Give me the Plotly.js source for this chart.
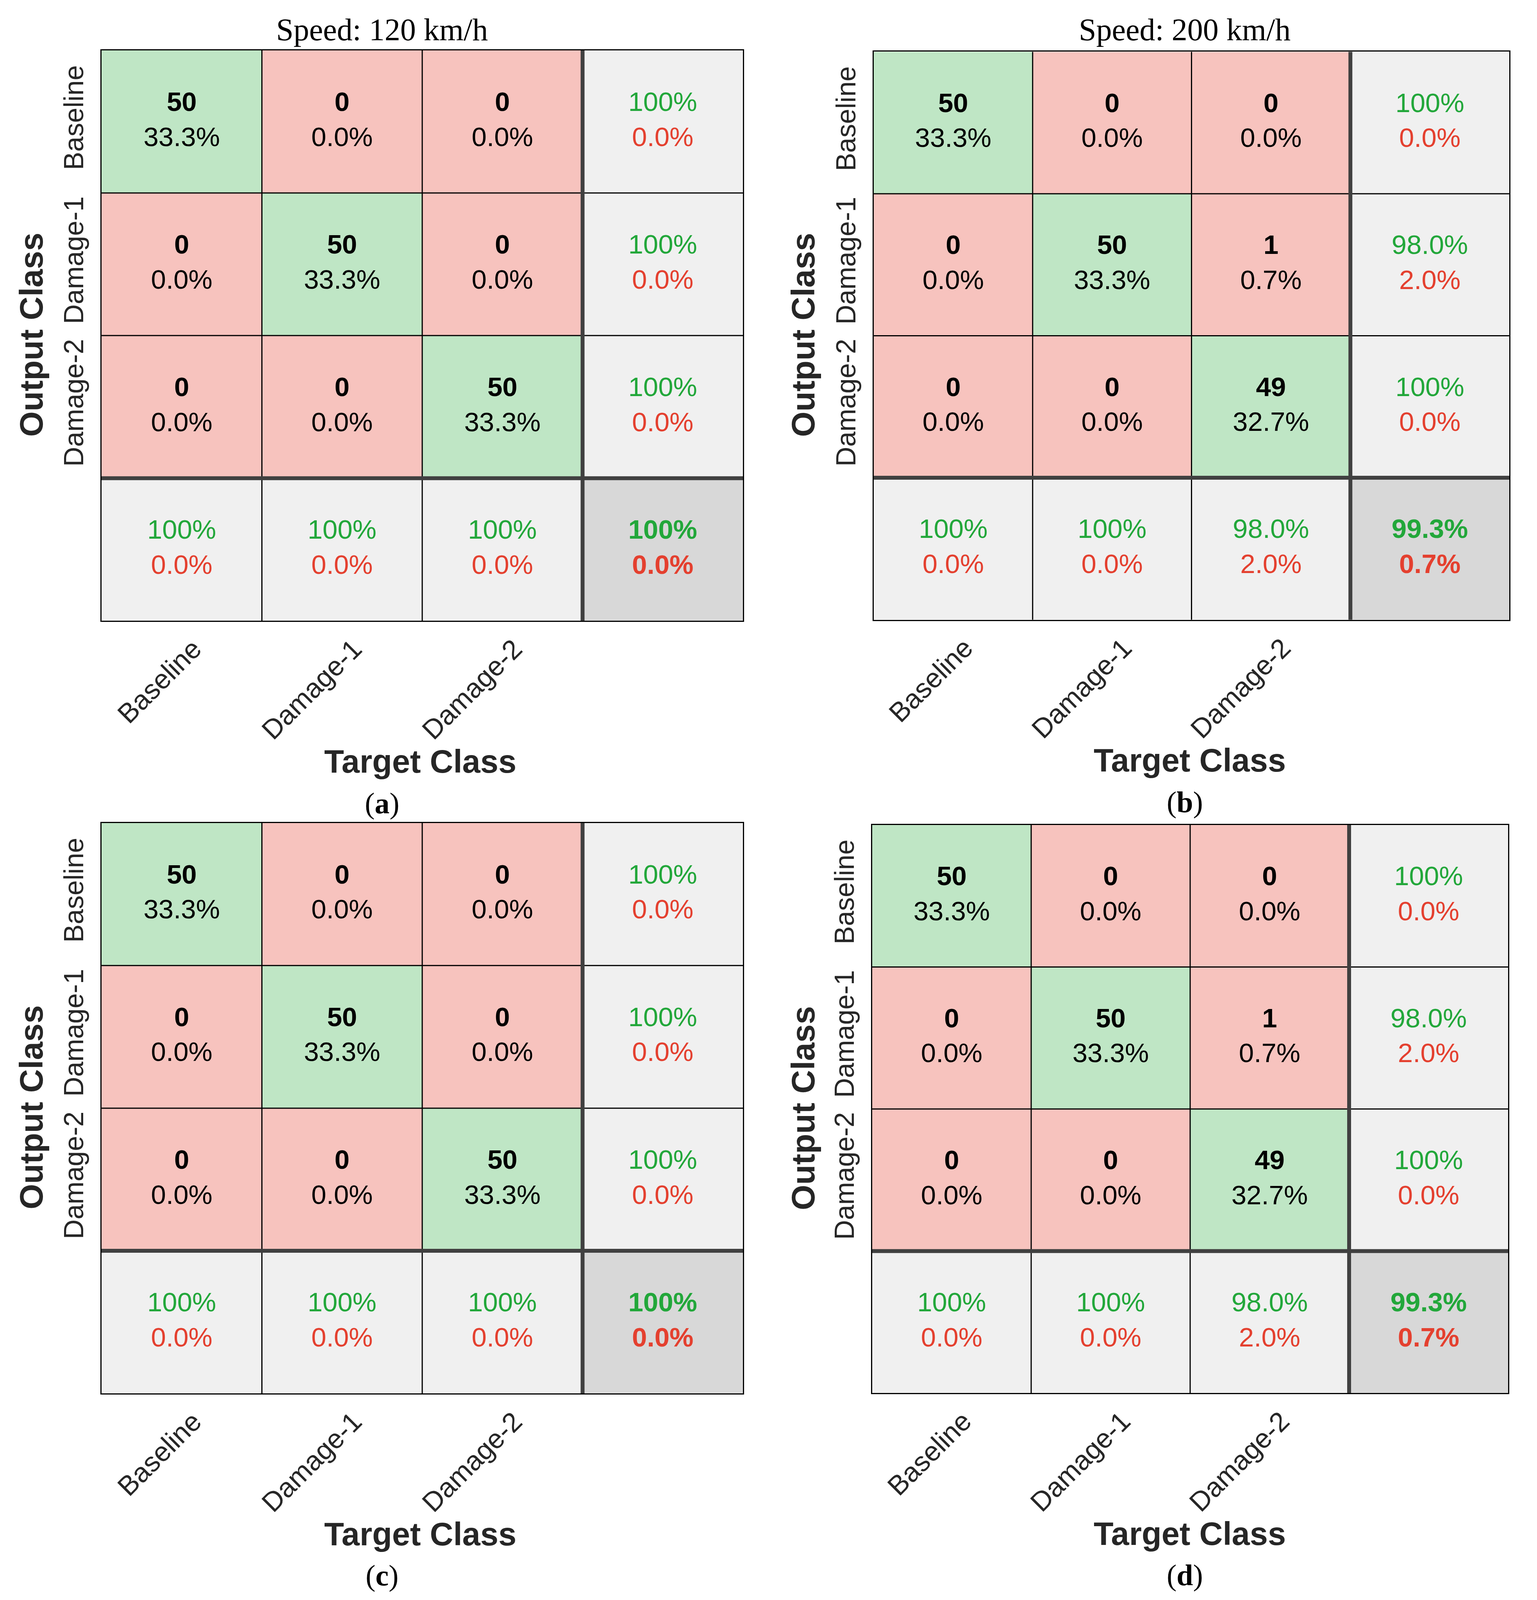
<!DOCTYPE html>
<html>
<head>
<meta charset="utf-8">
<script src="https://cdn.plot.ly/plotly-3.0.1.min.js"></script>
<style>html,body{margin:0;padding:0;background:#fff;overflow:hidden;}</style>
</head>
<body>
<div id="chart"></div>
<script>
// ---- data ----
const classNames = ['Baseline', 'Damage-1', 'Damage-2'];
// rows = Output Class, columns = Target Class
const countsA = [[50, 0, 0], [0, 50, 0], [0, 0, 50]];
const countsB = [[50, 0, 0], [0, 50, 1], [0, 0, 49]];
const countsC = [[50, 0, 0], [0, 50, 0], [0, 0, 50]];
const countsD = [[50, 0, 0], [0, 50, 1], [0, 0, 49]];
const panelTitles = ['Speed: 120 km/h', 'Speed: 200 km/h', '', ''];
const panelLetters = ['a', 'b', 'c', 'd'];
const xAxisTitle = 'Target Class';
const yAxisTitle = 'Output Class';

// ---- style / geometry (reference frame 3935 x 4608) ----
const RW = 3935, RH = 4608;
const W = window.innerWidth || RW;
const H = Math.min(window.innerHeight || RH, RH);
const fs = 0.2 + 0.8 * (1 + H / RH) / 2 + 0.05 * (1 - H / RH) * 0;  // mild font scale for a shorter frame
const boxes = [
  {x0: 260, x1: 1902, y0: 145, y1: 1788, titleX: 978, outX: 80, tgtX: 1076},
  {x0: 2237, x1: 3864, y0: 149, y1: 1785, titleX: 3033, outX: 2056, tgtX: 3046},
  {x0: 260, x1: 1902, y0: 2370, y1: 4013, titleX: 978, outX: 80, tgtX: 1076},
  {x0: 2233, x1: 3861, y0: 2376, y1: 4012, titleX: 3033, outX: 2056, tgtX: 3046}
];
const COL = {
  red: '#F7C3BE', green: '#BFE6C5', gray: '#F0F0F0', dark: '#D8D8D8',
  gtxt: '#22A73A', rtxt: '#E4402F', line: '#000000', thick: '#404040', lab: '#262626'
};
const SANS = 'Liberation Sans, Arial, sans-serif';
const SERIF = 'Liberation Serif, Times New Roman, serif';
const px = v => v / RW;
const py = v => 1 - v / RH;

function pct(v) {
  return (Math.abs(v - 100) < 1e-9) ? '100%' : v.toFixed(1) + '%';
}
function twoLine(good, bold) {
  const g = pct(good), b = pct(100 - good);
  const a = bold ? '<b>' : '', z = bold ? '</b>' : '';
  return '<span style="color:' + COL.gtxt + '">' + a + g + z + '</span><br>' +
         '<span style="color:' + COL.rtxt + '">' + a + b + z + '</span>';
}

const allCounts = [countsA, countsB, countsC, countsD];
const traces = [];
const shapes = [];
const annotations = [];
const layout = {
  width: W, height: H,
  margin: {l: 0, r: 0, t: 0, b: 0},
  paper_bgcolor: '#ffffff', plot_bgcolor: '#ffffff',
  showlegend: false, hovermode: false
};

allCounts.forEach((cm, p) => {
  const n = cm.length;
  const sfx = p === 0 ? '' : String(p + 1);
  const xa = 'x' + sfx, ya = 'y' + sfx;
  const total = cm.flat().reduce((s, v) => s + v, 0);

  const z = [];
  const tx = [], ty = [], tt = [];
  let diagSum = 0;
  for (let i = 0; i <= n; i++) {
    const row = [];
    for (let j = 0; j <= n; j++) {
      let code, text;
      if (i < n && j < n) {
        code = (i === j) ? 1 : 0;
        text = '<b>' + cm[i][j] + '</b><br>' + pct(cm[i][j] / total * 100);
        if (i === j) diagSum += cm[i][j];
      } else if (i < n && j === n) {
        code = 2;
        const rs = cm[i].reduce((s, v) => s + v, 0);
        text = twoLine(cm[i][i] / rs * 100, false);
      } else if (i === n && j < n) {
        code = 2;
        let cs = 0; for (let k = 0; k < n; k++) cs += cm[k][j];
        text = twoLine(cm[j][j] / cs * 100, false);
      } else {
        code = 3;
        text = null;
      }
      row.push(code);
      if (text !== null) { tx.push(j); ty.push(i); tt.push(text); }
    }
    z.push(row);
  }
  tx.push(n); ty.push(n); tt.push(twoLine(diagSum / total * 100, true));

  traces.push({
    type: 'heatmap', xaxis: xa, yaxis: ya,
    x: [0, 1, 2, 3], y: [0, 1, 2, 3], z: z,
    zmin: 0, zmax: 3, showscale: false, hoverinfo: 'skip',
    colorscale: [[0, COL.red], [0.25, COL.red], [0.25, COL.green], [0.5, COL.green],
                 [0.5, COL.gray], [0.75, COL.gray], [0.75, COL.dark], [1, COL.dark]]
  });
  traces.push({
    type: 'scatter', mode: 'text', xaxis: xa, yaxis: ya,
    x: tx, y: ty, text: tt, textposition: 'middle center',
    textfont: {family: SANS, size: Math.round(72 * fs), color: '#000000'},
    hoverinfo: 'skip', cliponaxis: false
  });

  const b = boxes[p];
  const axCommon = {
    showgrid: false, zeroline: false, fixedrange: true,
    showline: true, mirror: true, linecolor: COL.line, linewidth: 3,
    ticks: '', ticklen: 0,
    tickfont: {family: SANS, size: Math.round(73 * fs), color: COL.lab}
  };
  layout['xaxis' + sfx] = Object.assign({}, axCommon, {
    domain: [px(b.x0), px(b.x1)], anchor: ya,
    range: [-0.5, n + 0.5],
    tickmode: 'array', tickvals: [0, 1, 2], ticktext: classNames,
    tickangle: -45, ticklabelstandoff: 0, ticklabelshift: 30
  });
  layout['yaxis' + sfx] = Object.assign({}, axCommon, {
    domain: [py(b.y1), py(b.y0)], anchor: xa,
    range: [n + 0.5, -0.5],
    tickmode: 'array', tickvals: [0, 1, 2], ticktext: classNames,
    tickangle: -90, ticklabelstandoff: 16
  });

  for (let k = 1; k <= n; k++) {
    const pos = k - 0.5;
    const thick = (k === n);
    const ln = {color: thick ? COL.thick : COL.line, width: thick ? 10 : 3};
    shapes.push({type: 'line', xref: xa, yref: ya, x0: pos, x1: pos, y0: -0.5, y1: n + 0.5, line: ln});
    shapes.push({type: 'line', xref: xa, yref: ya, x0: -0.5, x1: n + 0.5, y0: pos, y1: pos, line: ln});
  }

  if (panelTitles[p]) {
    annotations.push({xref: 'paper', yref: 'paper', x: px(b.titleX), y: py(85),
      text: panelTitles[p], showarrow: false, xanchor: 'center', yanchor: 'middle',
      font: {family: SERIF, size: Math.round(84 * fs), color: '#000000'}});
  }
  const midY = (b.y0 + b.y1) / 2;
  annotations.push({xref: 'paper', yref: 'paper', x: px(b.outX), y: py(midY - 2),
    text: '<b>' + yAxisTitle + '</b>', textangle: -90, showarrow: false,
    xanchor: 'center', yanchor: 'middle',
    font: {family: SANS, size: Math.round(88 * fs), color: COL.lab}});
  annotations.push({xref: 'paper', yref: 'paper', x: px(b.tgtX), y: py(b.y1 + 405),
    text: '<b>' + xAxisTitle + '</b>', showarrow: false,
    xanchor: 'center', yanchor: 'middle',
    font: {family: SANS, size: Math.round(87 * fs), color: COL.lab}});
  annotations.push({xref: 'paper', yref: 'paper', x: px(b.titleX), y: py(b.y1 + 525),
    text: '(<b>' + panelLetters[p] + '</b>)', showarrow: false,
    xanchor: 'center', yanchor: 'middle',
    font: {family: SERIF, size: Math.round(80 * fs), color: '#000000'}});
});

layout.shapes = shapes;
layout.annotations = annotations;

Plotly.newPlot('chart', traces, layout, {staticPlot: true, displayModeBar: false});
</script>
</body>
</html>
